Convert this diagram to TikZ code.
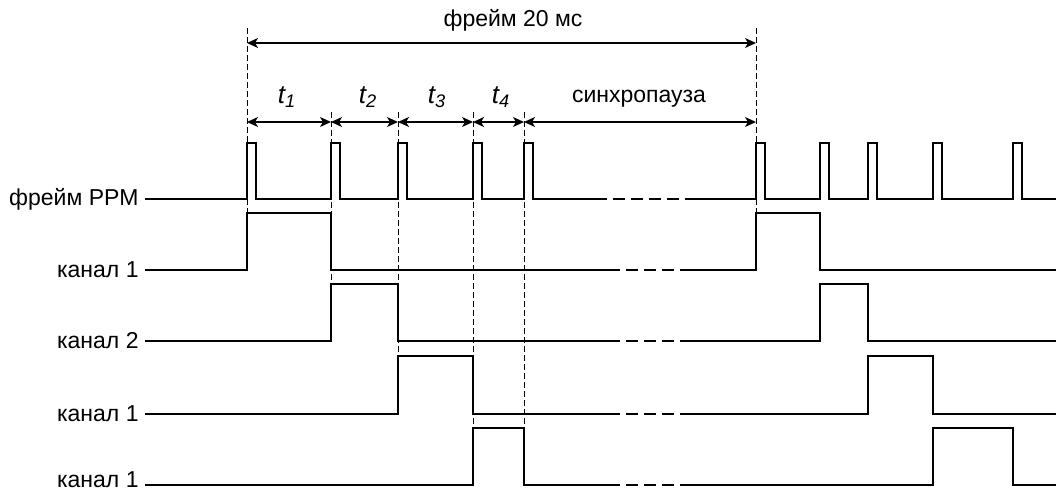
\documentclass[tikz,border=0pt]{standalone}
\usepackage{fontspec}
\setmainfont{Liberation Sans}
\usetikzlibrary{arrows.meta}
\begin{document}
\begin{tikzpicture}[x=0.5pt,y=-0.5pt,
  sig/.style={line width=1pt,line join=miter},
  gap/.style={line width=1pt,dash pattern=on 6pt off 3pt},
  guide/.style={line width=0.35pt,dash pattern=on 3pt off 1.5pt},
  dim/.style={line width=0.7pt,{Stealth[length=5.5pt,width=5pt,inset=1.5pt]}-{Stealth[length=5.5pt,width=5pt,inset=1.5pt]}},
  lbl/.style={font=\fontsize{11.5}{13}\selectfont,inner sep=0pt,anchor=east},
  tlab/.style={font=\fontsize{13}{15}\selectfont\itshape,inner sep=0pt}]
\useasboundingbox (0,0) rectangle (1056,492);
% labels
\node[lbl] (ppm) at (139,199) {фрейм PPM};
\node[lbl] (c1) at (139,270) {канал 1};
\node[lbl] (c2) at (139,341) {канал 2};
\node[lbl] (c3) at (139,414) {канал 1};
\node[lbl,anchor=base east] (c4) at (139,487) {канал 1};
% guide lines
\coordinate (g0t) at (247,28);
\coordinate (g0b) at (247,270);
\coordinate (g1t) at (331,112);
\coordinate (g1b) at (331,341);
\coordinate (g2t) at (398,112);
\coordinate (g2b) at (398,414);
\coordinate (g3t) at (473,112);
\coordinate (g3b) at (473,485);
\coordinate (g4t) at (524,112);
\coordinate (g4b) at (524,485);
\coordinate (g5t) at (756,28);
\coordinate (g5b) at (756,270);
\foreach \i in {0,...,5} \draw[guide] (g\i t) -- (g\i b);
% dimension arrows
\coordinate (fa) at (247,43);
\coordinate (fb) at (756,43);
\draw[dim] (fa) -- (fb);
\node[font=\fontsize{11.5}{13}\selectfont,inner sep=0pt] (fr) at (513,20) {фрейм 20 мс};
\coordinate (a0) at (247,122);
\coordinate (a1) at (331,122);
\coordinate (a2) at (398,122);
\coordinate (a3) at (473,122);
\coordinate (a4) at (524,122);
\coordinate (a5) at (756,122);
\draw[dim] (a0) -- (a1);
\draw[dim] (a1) -- (a2);
\draw[dim] (a2) -- (a3);
\draw[dim] (a3) -- (a4);
\draw[dim] (a4) -- (a5);
\node[tlab] (t1) at (287,97) {t\textsubscript{1}};
\node[tlab] (t2) at (368,97) {t\textsubscript{2}};
\node[tlab] (t3) at (437,97) {t\textsubscript{3}};
\node[tlab] (t4) at (501,97) {t\textsubscript{4}};
\node[font=\fontsize{11.5}{13}\selectfont,inner sep=0pt] (sp) at (639,99) {синхропауза};
% PPM
\draw[sig] ([xshift=3pt]ppm.east) -- (247,199) -- (247,143) -- (256,143) -- (256,199)
  -- (331,199) -- (331,143) -- (340,143) -- (340,199)
  -- (398,199) -- (398,143) -- (407,143) -- (407,199)
  -- (473,199) -- (473,143) -- (482,143) -- (482,199)
  -- (524,199) -- (524,143) -- (533,143) -- (533,199) -- (595,199);
\draw[gap] (595,199) -- (688,199);
\draw[sig] (688,199) -- (756,199) -- (756,143) -- (765,143) -- (765,199)
  -- (820,199) -- (820,143) -- (829,143) -- (829,199)
  -- (868,199) -- (868,143) -- (877,143) -- (877,199)
  -- (933,199) -- (933,143) -- (942,143) -- (942,199)
  -- (1013,199) -- (1013,143) -- (1022,143) -- (1022,199) -- (1056,199);
% channel 1
\draw[sig] ([xshift=3pt]c1.east) -- (247,270) -- (247,213) -- (331,213) -- (331,270) -- (608,270);
\draw[gap] (608,270) -- (688,270);
\draw[sig] (688,270) -- (756,270) -- (756,213) -- (820,213) -- (820,270) -- (1056,270);
% channel 2
\draw[sig] ([xshift=3pt]c2.east) -- (331,341) -- (331,284) -- (398,284) -- (398,341) -- (608,341);
\draw[gap] (608,341) -- (688,341);
\draw[sig] (688,341) -- (820,341) -- (820,284) -- (868,284) -- (868,341) -- (1056,341);
% channel 3
\draw[sig] ([xshift=3pt]c3.east) -- (398,414) -- (398,356) -- (473,356) -- (473,414) -- (608,414);
\draw[gap] (608,414) -- (688,414);
\draw[sig] (688,414) -- (868,414) -- (868,356) -- (933,356) -- (933,414) -- (1056,414);
% channel 4
\draw[sig] ([xshift=3pt]c4.east |- 0,485) -- (473,485) -- (473,428) -- (524,428) -- (524,485) -- (608,485);
\draw[gap] (608,485) -- (688,485);
\draw[sig] (688,485) -- (933,485) -- (933,428) -- (1013,428) -- (1013,485) -- (1056,485);
\end{tikzpicture}
\end{document}
